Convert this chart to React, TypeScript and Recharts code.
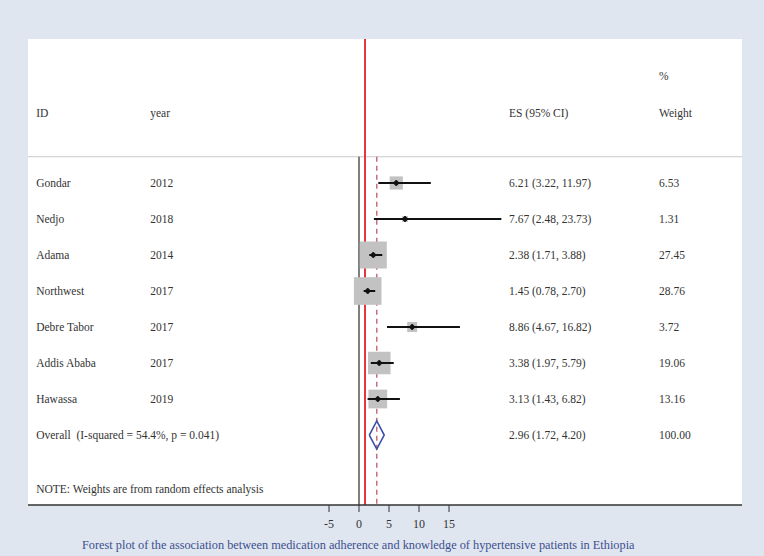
import React from 'react';
import {
  ComposedChart,
  Scatter,
  XAxis,
  YAxis,
  ZAxis,
  ReferenceLine,
  CartesianGrid,
} from 'recharts';

// ---- data ----
const studies = ['Gondar', 'Nedjo', 'Adama', 'Northwest', 'Debre Tabor', 'Addis Ababa', 'Hawassa'];
const years = ['2012', '2018', '2014', '2017', '2017', '2017', '2019'];
const esValues = [6.21, 7.67, 2.38, 1.45, 8.86, 3.38, 3.13];
const ciLow = [3.22, 2.48, 1.71, 0.78, 4.67, 1.97, 1.43];
const ciHigh = [11.97, 23.73, 3.88, 2.7, 16.82, 5.79, 6.82];
const weights = [6.53, 1.31, 27.45, 28.76, 3.72, 19.06, 13.16];

const overallLabel = 'Overall\u00A0\u00A0(I-squared = 54.4%, p = 0.041)';
const overallES = 2.96;
const overallLow = 1.72;
const overallHigh = 4.2;
const overallWeight = 100.0;

const xTicks = [-5, 0, 5, 10, 15];
const noteText = 'NOTE: Weights are from random effects analysis';
const caption =
  'Forest plot of the association between medication adherence and knowledge of hypertensive patients in Ethiopia';

// ---- layout constants (data-space) ----
const X_DOMAIN: [number, number] = [-55.1667, 63.8333];
const Y_DOMAIN: [number, number] = [-3, 9.9444];
const COL_ID = -53.8;
const COL_YEAR = -34.8;
const COL_ES = 25;
const COL_WT = 50;
const SEP_Y = 0.27;
const HEADER_Y = -0.944;
const HEADER_TOP_Y = -1.97;
const NOTE_Y = 9.5;
const DIAMOND_HALF = 0.39;

const FONT = "'Liberation Serif', serif";
const TEXT_COLOR = '#333';

const fmt = (v: number) => v.toFixed(2);

const studyRows = studies.map((name, i) => ({
  x: esValues[i],
  y: i + 1,
  w: weights[i],
}));

const ciSegments = studies.map((name, i) => [
  { x: ciLow[i], y: i + 1 },
  { x: ciHigh[i], y: i + 1 },
]);

const overallRow = studies.length + 1;

const diamondPts = [
  { x: overallLow, y: overallRow },
  { x: overallES, y: overallRow - DIAMOND_HALF },
  { x: overallHigh, y: overallRow },
  { x: overallES, y: overallRow + DIAMOND_HALF },
  { x: overallLow, y: overallRow },
];

const textItems: { x: number; y: number; label: string }[] = [
  { x: COL_ID, y: HEADER_Y, label: 'ID' },
  { x: COL_YEAR, y: HEADER_Y, label: 'year' },
  { x: COL_ES, y: HEADER_Y, label: 'ES (95% CI)' },
  { x: COL_WT, y: HEADER_TOP_Y, label: '%' },
  { x: COL_WT, y: HEADER_Y, label: 'Weight' },
  ...studies.map((s, i) => ({ x: COL_ID, y: i + 1, label: s })),
  ...years.map((s, i) => ({ x: COL_YEAR, y: i + 1, label: s })),
  ...esValues.map((v, i) => ({
    x: COL_ES,
    y: i + 1,
    label: `${fmt(v)} (${fmt(ciLow[i])}, ${fmt(ciHigh[i])})`,
  })),
  ...weights.map((w, i) => ({ x: COL_WT, y: i + 1, label: fmt(w) })),
  { x: COL_ID, y: overallRow, label: overallLabel },
  { x: COL_ES, y: overallRow, label: `${fmt(overallES)} (${fmt(overallLow)}, ${fmt(overallHigh)})` },
  { x: COL_WT, y: overallRow, label: fmt(overallWeight) },
  { x: COL_ID, y: NOTE_Y, label: noteText },
];

const TextShape = (props: any) => (
  <text
    x={props.cx}
    y={props.cy}
    dy="0.35em"
    fontSize={11.5}
    fontFamily={FONT}
    fill={TEXT_COLOR}
    textAnchor="start"
  >
    {props.payload.label}
  </text>
);

const MarkerShape = (props: any) => {
  const { cx, cy } = props;
  const s = 3;
  return (
    <path
      d={`M${cx - s},${cy} L${cx},${cy - s} L${cx + s},${cy} L${cx},${cy + s} Z`}
      fill="#111"
      stroke="#111"
      strokeWidth={0.8}
    />
  );
};

const NoShape = () => <g />;

export default function App() {
  return (
    <div
      style={{
        position: 'absolute',
        left: 0,
        top: 0,
        width: 764,
        height: 556,
        background: '#dfe6f0',
      }}
    >
      <ComposedChart
        width={764}
        height={556}
        margin={{ top: 39, right: 22, bottom: 21, left: 28 }}
      >
        <CartesianGrid horizontal={false} vertical={false} fill="#ffffff" />
        <XAxis
          type="number"
          dataKey="x"
          domain={X_DOMAIN}
          ticks={xTicks}
          allowDataOverflow
          height={30}
          tickSize={7}
          tickMargin={7}
          axisLine={{ stroke: '#333', strokeWidth: 1.5 }}
          tickLine={{ stroke: '#333' }}
          tick={{ fontSize: 12, fill: TEXT_COLOR, fontFamily: FONT }}
        />
        <YAxis type="number" dataKey="y" domain={Y_DOMAIN} reversed hide allowDataOverflow width={0} />
        <ZAxis type="number" dataKey="w" domain={[0, 30]} range={[0, 798]} />

        <ReferenceLine y={SEP_Y} stroke="#c8c8c8" strokeWidth={1} />
        <ReferenceLine
          segment={[
            { x: 0, y: SEP_Y },
            { x: 0, y: Y_DOMAIN[1] },
          ]}
          stroke="#555"
          strokeWidth={1.5}
        />
        <ReferenceLine x={1} stroke="#e8343c" strokeWidth={2} />
        <ReferenceLine
          segment={[
            { x: overallES, y: SEP_Y },
            { x: overallES, y: Y_DOMAIN[1] },
          ]}
          stroke="#c4707c"
          strokeWidth={1.5}
          strokeDasharray="5 4"
        />

        <Scatter data={studyRows} isAnimationActive={false} shape="square" fill="#c2c2c2" />
        {ciSegments.map((seg, i) => (
          <Scatter
            key={`ci-${i}`}
            data={seg}
            isAnimationActive={false}
            shape={NoShape}
            line={{ stroke: '#111', strokeWidth: 2 }}
            lineJointType="linear"
          />
        ))}
        <Scatter data={studyRows} isAnimationActive={false} shape={MarkerShape} />
        <Scatter
          data={diamondPts}
          isAnimationActive={false}
          shape={NoShape}
          line={{ stroke: '#3a4fa8', strokeWidth: 1.6 }}
          lineJointType="linear"
        />
        <Scatter data={textItems} isAnimationActive={false} shape={TextShape} />
      </ComposedChart>
      <div
        style={{
          position: 'absolute',
          left: 82,
          top: 538,
          fontFamily: FONT,
          fontSize: 12.3,
          color: '#3d4f8f',
          whiteSpace: 'nowrap',
        }}
      >
        {caption}
      </div>
    </div>
  );
}
